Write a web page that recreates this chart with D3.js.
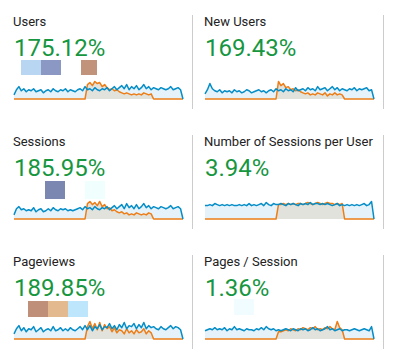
<!DOCTYPE html>
<html><head><meta charset="utf-8">
<script src="https://cdn.jsdelivr.net/npm/d3@7"></script>
<style>html,body{margin:0;padding:0;background:#fff;}svg{display:block;}</style>
</head><body>
<script>
// ---- data ----
const titles = ["Users","New Users","Sessions","Number of Sessions per User","Pageviews","Pages / Session"];
const changes = ["175.12%","169.43%","185.95%","3.94%","189.85%","1.36%"];

const usersCur = [4,9,12,8,10,7,9,8,10,7, 8,9,6,8,9,7,10,8,7,9, 8,10,7,9,8,7,9,10,8,12, 9,10,8,11,9,8,10,9,11,8, 10,12,9,11,13,10,14,9,12,10, 13,9,11,14,10,12,9,11,10,9, 11,10,9,10,12,9,10,11,9,0];
const usersPrev = [0,0,0,0,0,0,0,0,0,0, 0,0,0,0,0,0,0,0,0,0, 0,0,0,0,0,0,0,0,0,0, 14,16,13,17,15,16,12,14,11,9, 10,8,9,7,6,5,6,5,4,5, 4,5,4,6,5,4,5,0,0,0, 0,0,0,0,0,0,0,0,0,0];

const newUsersCur = [5,9,15,10,8,7,9,6,8,7, 8,6,9,7,8,6,7,9,8,6, 7,8,9,7,8,6,8,9,7,10, 8,9,7,10,8,9,7,11,8,9, 10,8,11,9,10,8,12,9,10,11, 8,10,12,9,11,8,10,9,8,10, 9,11,8,10,9,10,11,8,9,0];
const newUsersPrev = [0,0,0,0,0,0,0,0,0,0, 0,0,0,0,0,0,0,0,0,0, 0,0,0,0,0,0,0,0,0,0, 17,13,15,11,12,9,10,8,9,7, 6,5,6,4,5,4,6,5,4,6, 3,5,4,6,4,5,4,0,0,0, 0,0,0,0,0,0,0,0,0,0];

const sessionsCur = [4,10,12,9,10,8,9,8,11,7, 9,10,7,8,10,8,11,9,8,10, 9,10,8,9,8,9,10,11,9,12, 10,11,9,12,10,9,11,10,12,9, 11,13,10,12,14,10,15,11,13,10, 14,10,12,15,11,13,10,12,11,10, 12,11,10,11,13,10,11,12,10,0];
const sessionsPrev = [0,0,0,0,0,0,0,0,0,0, 0,0,0,0,0,0,0,0,0,0, 0,0,0,0,0,0,0,0,0,0, 15,17,14,16,13,17,12,14,10,11, 8,9,7,6,7,5,6,4,5,4, 6,5,4,5,4,6,5,0,0,0, 0,0,0,0,0,0,0,0,0,0];

const spuCur = [13,13,14,13,15,14,13,14,13,14, 13,14,13,13,14,13,14,13,15,13, 14,13,14,15,13,16,14,13,15,14, 14,15,14,13,15,14,15,14,13,15, 14,15,14,16,14,15,15,14,15,14, 15,14,13,14,15,13,14,13,14,13, 14,13,14,13,14,15,13,14,17,0];
const spuPrev = [0,0,0,0,0,0,0,0,0,0, 0,0,0,0,0,0,0,0,0,0, 0,0,0,0,0,0,0,0,0,0, 14,14,15,14,15,14,15,14,15,15, 14,15,16,15,14,15,16,15,14,15, 16,15,15,14,15,14,15,0,0,0, 0,0,0,0,0,0,0,0,0,0];

const pageviewsCur = [5,10,13,8,11,7,10,9,12,7, 9,11,7,9,10,8,12,8,9,11, 8,10,8,11,9,8,10,12,9,13, 9,13,8,12,10,14,9,12,11,15, 10,13,9,14,11,16,10,13,12,15, 10,14,11,16,10,13,11,12,10,9, 12,10,9,11,13,10,12,11,9,0];
const pageviewsPrev = [0,0,0,0,0,0,0,0,0,0, 0,0,0,0,0,0,0,0,0,0, 0,0,0,0,0,0,0,0,0,0, 12,17,10,15,9,16,8,14,10,12, 7,11,6,9,8,5,10,6,8,5, 9,6,7,10,5,8,6,0,0,0, 0,0,0,0,0,0,0,0,0,0];

const ppsCur = [8,9,10,9,11,9,10,9,11,8, 10,9,12,9,10,9,8,10,9,9, 8,10,9,11,9,12,10,9,10,8, 9,8,9,10,9,8,10,9,8,10, 9,10,8,9,11,9,10,8,9,10, 12,9,10,8,9,10,8,9,9,8, 9,10,9,8,9,10,9,8,12,0];
const ppsPrev = [0,0,0,0,0,0,0,0,0,0, 0,0,0,0,0,0,0,0,0,0, 0,0,0,0,0,0,0,0,0,0, 7,7,8,9,8,10,9,8,10,9, 11,10,9,11,10,12,9,10,9,11, 10,12,10,9,17,11,9,0,0,0, 0,0,0,0,0,0,0,0,0,0];

const currentSeries = [usersCur,newUsersCur,sessionsCur,spuCur,pageviewsCur,ppsCur];
const previousSeries = [usersPrev,newUsersPrev,sessionsPrev,spuPrev,pageviewsPrev,ppsPrev];

// ---- drawing ----
const W = 394, H = 363;
const svg = d3.select("body").append("svg").attr("width",W).attr("height",H);

const rowH = 120;
const colX = [4,195];
const BLUE = "#058dc7", ORANGE = "#ed7e17";

titles.forEach((t,i)=>{
  const col = i%2, row = Math.floor(i/2);
  const g = svg.append("g").attr("transform",`translate(${colX[col]},${row*rowH})`);
  g.append("line").attr("x1",188.5).attr("x2",188.5).attr("y1",15).attr("y2",109)
    .attr("stroke","#cccccc").attr("stroke-width",1);
  g.append("text").attr("x",9).attr("y",26).text(t)
    .attr("font-family","Roboto, Arial, sans-serif").attr("font-size",13).attr("fill","#222");
  g.append("text").attr("x",10).attr("y",56).text(changes[i])
    .attr("font-family","Roboto, Arial, sans-serif").attr("font-size",24).attr("fill","#16963f");

  const cur = currentSeries[i], prev = previousSeries[i];
  const x = d3.scaleLinear().domain([0,cur.length-1]).range([10,179]);
  const y = d3.scaleLinear().domain([0,d3.max(cur.concat(prev))]).range([99,81.5]);
  const area = d3.area().x((d,j)=>x(j)).y0(y(0)).y1(d=>y(d));
  const line = d3.line().x((d,j)=>x(j)).y(d=>y(d));
  g.append("path").datum(cur).attr("d",area).attr("fill","#e6f2f9");
  g.append("path").datum(prev).attr("d",area).attr("fill","#e2e2dc");
  g.append("path").datum(prev).attr("d",line).attr("fill","none").attr("stroke",ORANGE).attr("stroke-width",1.5).attr("stroke-linejoin","round");
  g.append("path").datum(cur).attr("d",line).attr("fill","none").attr("stroke",BLUE).attr("stroke-width",1.5).attr("stroke-linejoin","round");
});

// colored blocks seen in the reference image
const blocks = [
  [21,60,20,15,"#b8d5f1"],[41,60,20,15,"#8b98c4"],[81,60,16,15,"#c0937a"],
  [45,181,20,18,"#7b87b0"],[85,181,20,18,"#f0fffe"],
  [28,301,20,16,"#bf8f79"],[48,301,20,16,"#e3b98f"],[68,301,20,16,"#bde6fd"],
  [234,299,20,16,"#f0fcff"]
];
svg.append("g").selectAll("rect").data(blocks).join("rect")
  .attr("x",d=>d[0]).attr("y",d=>d[1]).attr("width",d=>d[2]).attr("height",d=>d[3]).attr("fill",d=>d[4]);
</script>
</body></html>
